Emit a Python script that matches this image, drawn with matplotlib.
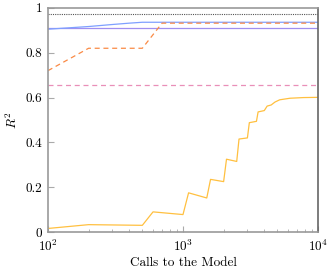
import matplotlib
matplotlib.use("Agg")
import matplotlib.pyplot as plt
import numpy as np

plt.rcParams['font.family'] = ['cmr10', 'DejaVu Serif']
plt.rcParams['mathtext.fontset'] = 'cm'
plt.rcParams['axes.formatter.use_mathtext'] = True
plt.rcParams['axes.unicode_minus'] = False

# reference levels (constant lines)
ref_dotted = 0.973
ref_purple = 0.910
ref_pink = 0.655

# blue curve
blue_x = [100, 200, 300, 400, 500, 10000]
blue_y = [0.905, 0.917, 0.926, 0.932, 0.936, 0.936]

# orange dashed curve
orange_x = [100, 200, 500, 700, 10000]
orange_y = [0.72, 0.82, 0.82, 0.932, 0.932]

# yellow step curve
yellow_x = [100, 200, 500, 600, 1000, 1100, 1500, 1600, 2000, 2100, 2500, 2600,
            3000, 3100, 3500, 3600, 4000, 4200, 4500, 4800, 5200, 6200, 7800, 10000]
yellow_y = [0.016, 0.033, 0.030, 0.090, 0.078, 0.175, 0.152, 0.235, 0.225, 0.325,
            0.315, 0.415, 0.420, 0.488, 0.494, 0.536, 0.542, 0.562, 0.567, 0.580,
            0.590, 0.597, 0.600, 0.601]

fig = plt.figure(figsize=(3.33, 2.73), dpi=100)
ax = fig.add_axes([0.144, 0.150, 0.811, 0.821])

xmin, xmax = 100, 10000
ax.plot([xmin, xmax], [ref_dotted] * 2, color='#555555', lw=0.8, ls=(0, (1, 1)))
ax.plot([xmin, xmax], [ref_purple] * 2, color='#a08ff0', lw=0.9)
ax.plot(blue_x, blue_y, color='#7fa0ff', lw=0.9)
ax.plot(orange_x, orange_y, color='#fa8a45', lw=0.9, ls=(0, (4, 3)))
ax.plot([xmin, xmax], [ref_pink] * 2, color='#e98fb8', lw=0.9, ls=(0, (4, 3)))
ax.plot(yellow_x, yellow_y, color='#ffc040', lw=0.9)

ax.set_xscale('log')
ax.set_xlim(xmin, xmax)
ax.set_ylim(0, 1)
ax.set_yticks([0, 0.2, 0.4, 0.6, 0.8, 1])
ax.set_yticklabels(['0', '0.2', '0.4', '0.6', '0.8', '1'])

for s in ax.spines.values():
    s.set_color('#999999')
    s.set_linewidth(1.2)
ax.spines['right'].set_color('#666666')
ax.tick_params(which='both', direction='in', color='#aaaaaa', labelsize=9.5)
ax.tick_params(which='major', length=4)
ax.tick_params(which='minor', length=2.5)
ax.tick_params(axis='x', pad=5)
ax.tick_params(axis='y', pad=4)
ax.set_xlabel('Calls to the Model', fontsize=9.5, labelpad=2)
ax.set_ylabel(r'$R^2$', fontsize=9.5, labelpad=4)

fig.savefig('out.png', dpi=100)
